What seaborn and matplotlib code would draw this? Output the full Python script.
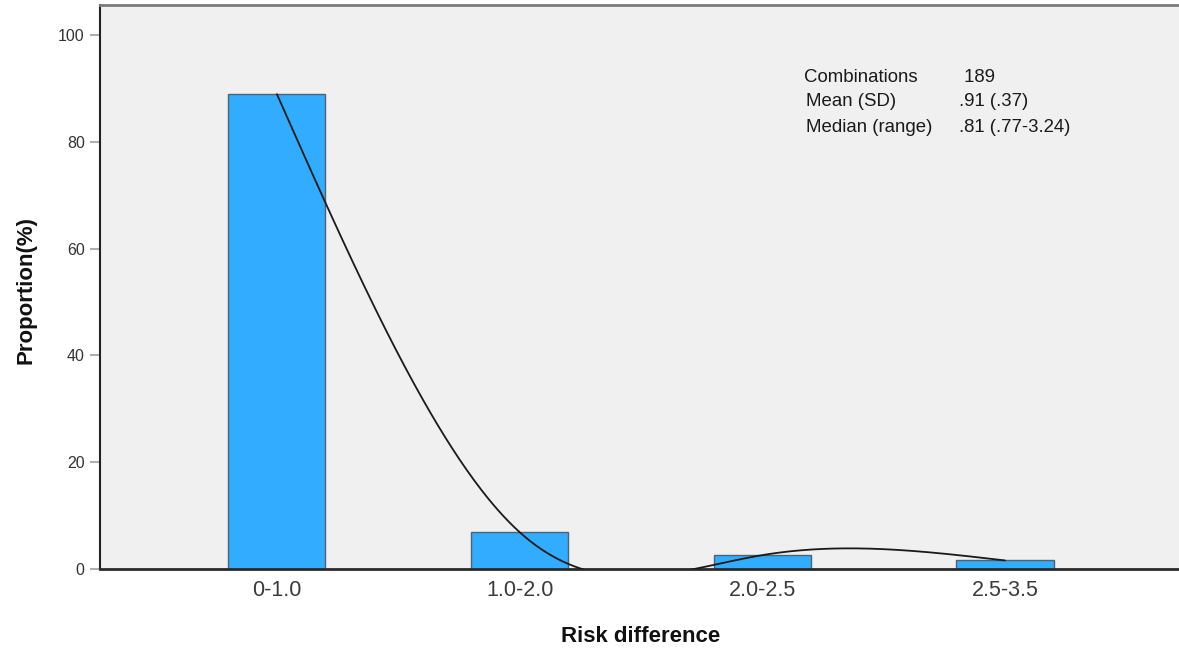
import numpy as np
import pandas as pd
import matplotlib
matplotlib.use("Agg")
import matplotlib.pyplot as plt
import seaborn as sns

# Distribution of risk differences across drug combinations
categories = ["0-1.0", "1.0-2.0", "2.0-2.5", "2.5-3.5"]
proportions = [88.9, 6.9, 2.6, 1.6]
y_ticks = [0, 20, 40, 60, 80, 100]

stats_labels = ["Combinations", "Mean (SD)", "Median (range)"]
stats_values = [" 189", ".91 (.37)", ".81 (.77-3.24)"]


def natural_spline(xk, yk, num=400):
    """Natural cubic spline through the knots (xk, yk)."""
    xk = np.asarray(xk, float)
    yk = np.asarray(yk, float)
    n = len(xk)
    h = np.diff(xk)
    A = np.zeros((n, n))
    b = np.zeros(n)
    A[0, 0] = A[-1, -1] = 1.0
    for i in range(1, n - 1):
        A[i, i - 1] = h[i - 1]
        A[i, i] = 2 * (h[i - 1] + h[i])
        A[i, i + 1] = h[i]
        b[i] = 6 * ((yk[i + 1] - yk[i]) / h[i] - (yk[i] - yk[i - 1]) / h[i - 1])
    M = np.linalg.solve(A, b)
    xs = np.linspace(xk[0], xk[-1], num)
    idx = np.clip(np.searchsorted(xk, xs, side="right") - 1, 0, n - 2)
    x0, x1 = xk[idx], xk[idx + 1]
    hh = x1 - x0
    t0, t1 = x1 - xs, xs - x0
    ys = (M[idx] * t0 ** 3 / (6 * hh) + M[idx + 1] * t1 ** 3 / (6 * hh)
          + (yk[idx] / hh - M[idx] * hh / 6) * t0
          + (yk[idx + 1] / hh - M[idx + 1] * hh / 6) * t1)
    return xs, ys


sns.set_style("white")
plt.rcParams["font.family"] = ["Liberation Sans", "DejaVu Sans"]

W, H = 1179, 656
fig = plt.figure(figsize=(W / 100, H / 100), dpi=100)
ax = fig.add_axes([100 / W, (H - 569) / H, (W - 100) / W, (569 - 5) / H])
ax.set_facecolor("#f0f0f0")

df = pd.DataFrame({"Risk difference": categories, "Proportion": proportions})
sns.barplot(data=df, x="Risk difference", y="Proportion", width=0.4,
            color="#31acfe", saturation=1, edgecolor="#4f6272",
            linewidth=1.0, ax=ax, zorder=2)

# Interpolation line through the bar tops
cx, cy = natural_spline(np.arange(len(proportions)), proportions)
sns.lineplot(x=cx, y=cy, color="#1a1a1a", linewidth=1.3, ax=ax,
             zorder=3, sort=False, estimator=None)

ax.set_xlim(-0.729, 3.717)
ax.set_ylim(0, 105.6)
ax.set_yticks(y_ticks)
ax.set_yticklabels([str(v) for v in y_ticks])

ax.tick_params(axis="y", left=True, length=7, width=1.5, color="#b0b0b0",
               labelsize=11.5, labelcolor="#333333", pad=4)
ax.tick_params(axis="x", bottom=False, length=0, labelsize=15.5,
               labelcolor="#3a3a3a", pad=8)

for side in ("top", "left", "bottom"):
    ax.spines[side].set_visible(True)
ax.spines["right"].set_visible(False)
ax.spines["top"].set_color("#7a7a7a")
ax.spines["top"].set_linewidth(2.0)
ax.spines["left"].set_color("#222222")
ax.spines["left"].set_linewidth(1.5)
ax.spines["bottom"].set_color("#2a2a2a")
ax.spines["bottom"].set_linewidth(2.0)

ax.set_xlabel("Risk difference", fontsize=16, fontweight="bold",
              color="#111111")
ax.set_ylabel("Proportion(%)", fontsize=16, fontweight="bold",
              color="#111111")
ax.xaxis.set_label_coords((641 - 100) / (W - 100), -(626 - 569) / (569 - 5))
ax.yaxis.set_label_coords(-(100 - 36) / (W - 100), (569 - 290) / (569 - 5))

row_y = [77, 102, 127]
label_x = [804, 806, 806]
for ry, lx, lab, val in zip(row_y, label_x, stats_labels, stats_values):
    fig.text(lx / W, 1 - ry / H, lab, fontsize=13.4, color="#1a1a1a",
             va="center", ha="left")
    fig.text(959 / W, 1 - ry / H, val, fontsize=13.4, color="#1a1a1a",
             va="center", ha="left")

fig.savefig("out.png", dpi=100, facecolor="white")
